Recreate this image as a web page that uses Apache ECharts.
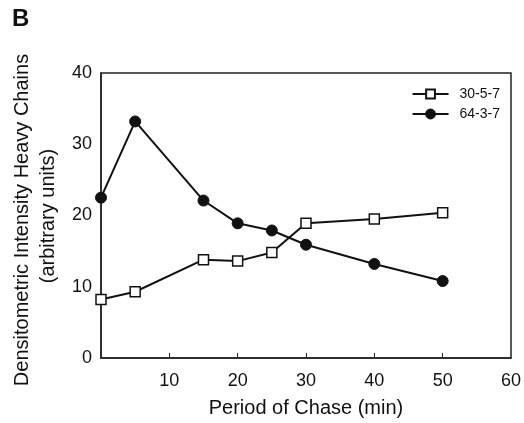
<!DOCTYPE html>
<html lang="en">
<head>
<meta charset="UTF-8">
<title>Period of Chase</title>
<script src="https://cdn.jsdelivr.net/npm/echarts@6/dist/echarts.min.js"></script>
<style>
  html, body { margin: 0; padding: 0; background: #fff; }
  #main { width: 524px; height: 423px; }
</style>
</head>
<body>
<div id="main"></div>
<script>
// chase time (min)
const minutes = [0, 5, 15, 20, 25, 30, 40, 50];
const s30 = [8.2, 9.3, 13.8, 13.6, 14.8, 18.9, 19.5, 20.4];   // 30-5-7, open squares
const s64 = [22.5, 33.2, 22.1, 18.9, 17.9, 15.9, 13.2, 10.8]; // 64-3-7, filled circles
const seriesNames = ['30-5-7', '64-3-7'];
const xTicks = [10, 20, 30, 40, 50, 60];
const yTicks = [0, 10, 20, 30, 40];

const font = '"Liberation Sans", Arial, sans-serif';
const pairs = (vals) => minutes.map((m, i) => [m, vals[i]]);

var chart = echarts.init(document.getElementById('main'));

var option = {
  backgroundColor: '#fff',
  animation: false,
  textStyle: { fontFamily: font },
  grid: {
    left: 101, right: 12, top: 73, bottom: 63,
    show: true, borderColor: '#222', borderWidth: 1.5
  },
  graphic: [
    { type: 'text', left: 12, top: 7,
      style: { text: 'B', font: 'bold 24px ' + font, fill: '#111' } },
    { type: 'text', x: 22, y: 220, rotation: Math.PI / 2,
      style: { text: 'Densitometric Intensity Heavy Chains', font: '20px ' + font,
               fill: '#111', align: 'center', verticalAlign: 'middle' } },
    { type: 'text', x: 48, y: 216, rotation: Math.PI / 2,
      style: { text: '(arbitrary units)', font: '20px ' + font,
               fill: '#111', align: 'center', verticalAlign: 'middle' } }
  ],
  legend: {
    right: 19, top: 82, orient: 'vertical', itemGap: 6,
    itemWidth: 36, itemHeight: 11,
    textStyle: { fontFamily: font, fontSize: 14, color: '#111', padding: [0, 0, 0, 6] },
    data: seriesNames
  },
  xAxis: {
    type: 'value', min: 0, max: 60, interval: 10,
    name: 'Period of Chase (min)', nameLocation: 'middle', nameGap: 40,
    nameTextStyle: { fontFamily: font, fontSize: 20, color: '#111' },
    axisLine: { lineStyle: { color: '#222', width: 1.5 } },
    axisTick: { inside: true, length: 5, lineStyle: { color: '#222' },
                customValues: xTicks.filter(v => v < 60) },
    axisLabel: {
      fontFamily: font, fontSize: 18, color: '#111', margin: 14,
      customValues: xTicks
    },
    splitLine: { show: false }
  },
  yAxis: {
    type: 'value', min: 0, max: 40, interval: 10,
    axisLine: { show: true, lineStyle: { color: '#222', width: 1.5 } },
    axisTick: { show: false },
    axisLabel: { fontFamily: font, fontSize: 18, color: '#111', margin: 9,
                 customValues: yTicks },
    splitLine: { show: false }
  },
  series: [
    {
      name: seriesNames[0], type: 'line', data: pairs(s30),
      symbol: 'rect', symbolSize: 10,
      lineStyle: { color: '#111', width: 2 },
      itemStyle: { color: '#fff', borderColor: '#111', borderWidth: 1.5 }
    },
    {
      name: seriesNames[1], type: 'line', data: pairs(s64),
      symbol: 'circle', symbolSize: 11,
      lineStyle: { color: '#111', width: 2 },
      itemStyle: { color: '#111', borderColor: '#111', borderWidth: 1 }
    }
  ]
};

chart.setOption(option);
</script>
</body>
</html>
